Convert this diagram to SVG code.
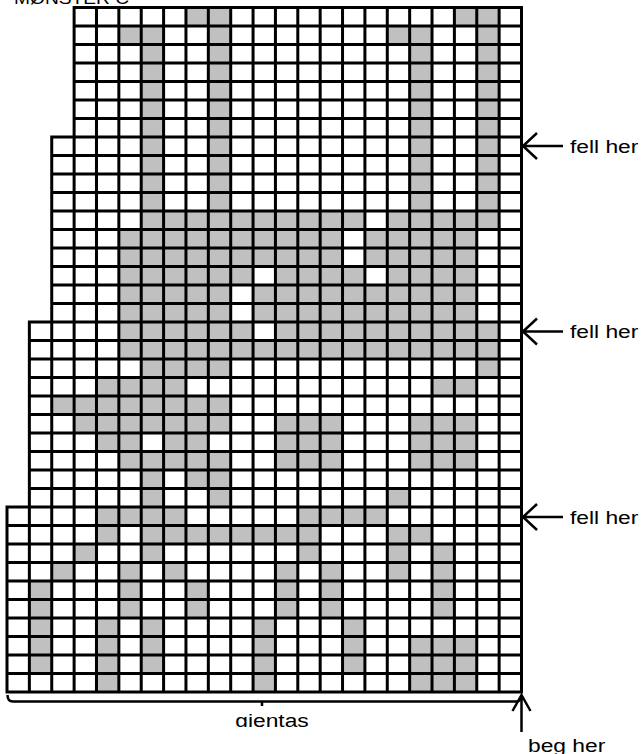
<svg xmlns="http://www.w3.org/2000/svg" width="643" height="754" viewBox="0 0 643 754">
<style>
.g{fill:#c0c0c0}
.grid{fill:none;stroke:#000;stroke-width:3;stroke-linecap:square}
.ln{fill:none;stroke:#000;stroke-width:2.5}
.t{font-family:"Liberation Sans",Arial,sans-serif;font-size:19px;fill:#000}
</style>
<defs>
<clipPath id="clipG"><rect x="180" y="704" width="200" height="23"/></clipPath>
</defs>
<rect width="643" height="754" fill="#fff"/>
<g id="title"><text class="t" style="font-size:16px" transform="translate(14,4) scale(1.2,1)">MØNSTER C</text></g>
<g id="chart">
<g id="shaded" class="g">
<rect x="185.96" y="7.5" width="44.74" height="18.5"/><rect x="454.39" y="7.5" width="44.74" height="18.5"/>
<rect x="118.85" y="26" width="44.74" height="18.5"/><rect x="208.33" y="26" width="22.37" height="18.5"/><rect x="387.28" y="26" width="44.74" height="18.5"/><rect x="476.76" y="26" width="22.37" height="18.5"/>
<rect x="141.22" y="44.5" width="22.37" height="166.5"/><rect x="208.33" y="44.5" width="22.37" height="166.5"/><rect x="409.65" y="44.5" width="22.37" height="166.5"/><rect x="476.76" y="44.5" width="22.37" height="166.5"/>
<rect x="141.22" y="211" width="223.69" height="18.5"/><rect x="387.28" y="211" width="111.85" height="18.5"/>
<rect x="118.85" y="229.5" width="223.69" height="37"/><rect x="364.91" y="229.5" width="111.85" height="37"/>
<rect x="118.85" y="266.5" width="134.22" height="18.5"/><rect x="275.43" y="266.5" width="89.48" height="18.5"/><rect x="387.28" y="266.5" width="89.48" height="18.5"/>
<rect x="118.85" y="285" width="111.85" height="37"/><rect x="253.07" y="285" width="223.69" height="37"/>
<rect x="118.85" y="322" width="134.22" height="18.5"/><rect x="275.43" y="322" width="223.7" height="18.5"/>
<rect x="118.85" y="340.5" width="380.28" height="18.5"/>
<rect x="141.22" y="359" width="89.48" height="18.5"/><rect x="476.76" y="359" width="22.37" height="18.5"/>
<rect x="96.48" y="377.5" width="89.48" height="18.5"/><rect x="432.02" y="377.5" width="44.74" height="18.5"/>
<rect x="51.74" y="396" width="178.96" height="18.5"/>
<rect x="74.11" y="414.5" width="156.59" height="18.5"/><rect x="275.43" y="414.5" width="67.11" height="55.5"/><rect x="409.65" y="414.5" width="67.11" height="55.5"/>
<rect x="96.48" y="433" width="44.74" height="18.5"/><rect x="163.59" y="433" width="44.74" height="18.5"/>
<rect x="118.85" y="451.5" width="111.85" height="18.5"/>
<rect x="141.22" y="470" width="22.37" height="18.5"/><rect x="185.96" y="470" width="44.74" height="18.5"/>
<rect x="141.22" y="488.5" width="22.37" height="18.5"/><rect x="208.33" y="488.5" width="22.37" height="18.5"/><rect x="387.28" y="488.5" width="22.37" height="18.5"/>
<rect x="96.48" y="507" width="89.48" height="18.5"/><rect x="297.8" y="507" width="89.48" height="18.5"/>
<rect x="96.48" y="525.5" width="22.37" height="18.5"/><rect x="141.22" y="525.5" width="178.95" height="18.5"/><rect x="387.28" y="525.5" width="44.74" height="18.5"/>
<rect x="74.11" y="544" width="22.37" height="18.5"/><rect x="141.22" y="544" width="22.37" height="18.5"/><rect x="297.8" y="544" width="22.37" height="18.5"/><rect x="387.28" y="544" width="22.37" height="37"/><rect x="432.02" y="544" width="22.37" height="18.5"/>
<rect x="51.74" y="562.5" width="22.37" height="18.5"/><rect x="118.85" y="562.5" width="22.37" height="18.5"/><rect x="163.59" y="562.5" width="22.37" height="18.5"/><rect x="275.43" y="562.5" width="22.37" height="18.5"/><rect x="320.17" y="562.5" width="22.37" height="18.5"/><rect x="432.02" y="562.5" width="22.37" height="55.5"/>
<rect x="29.37" y="581" width="22.37" height="37"/><rect x="118.85" y="581" width="22.37" height="37"/><rect x="185.96" y="581" width="22.37" height="37"/><rect x="275.43" y="581" width="22.37" height="37"/><rect x="320.17" y="581" width="22.37" height="37"/>
<rect x="29.37" y="618" width="22.37" height="55.5"/><rect x="96.48" y="618" width="22.37" height="74"/><rect x="141.22" y="618" width="22.37" height="55.5"/><rect x="253.07" y="618" width="22.37" height="74"/><rect x="342.54" y="618" width="22.37" height="55.5"/>
<rect x="409.65" y="636.5" width="67.11" height="55.5"/>
</g>
<path id="gridlines" class="grid" d="M74.11 7.5H521.5M74.11 26H521.5M74.11 44.5H521.5M74.11 63H521.5M74.11 81.5H521.5M74.11 100H521.5M74.11 118.5H521.5M51.74 137H521.5M51.74 155.5H521.5M51.74 174H521.5M51.74 192.5H521.5M51.74 211H521.5M51.74 229.5H521.5M51.74 248H521.5M51.74 266.5H521.5M51.74 285H521.5M51.74 303.5H521.5M29.37 322H521.5M29.37 340.5H521.5M29.37 359H521.5M29.37 377.5H521.5M29.37 396H521.5M29.37 414.5H521.5M29.37 433H521.5M29.37 451.5H521.5M29.37 470H521.5M29.37 488.5H521.5M7 507H521.5M7 525.5H521.5M7 544H521.5M7 562.5H521.5M7 581H521.5M7 599.5H521.5M7 618H521.5M7 636.5H521.5M7 655H521.5M7 673.5H521.5M7 692H521.5M7 507V692M29.37 322V692M51.74 137V692M74.11 7.5V692M96.48 7.5V692M118.85 7.5V692M141.22 7.5V692M163.59 7.5V692M185.96 7.5V692M208.33 7.5V692M230.7 7.5V692M253.07 7.5V692M275.43 7.5V692M297.8 7.5V692M320.17 7.5V692M342.54 7.5V692M364.91 7.5V692M387.28 7.5V692M409.65 7.5V692M432.02 7.5V692M454.39 7.5V692M476.76 7.5V692M499.13 7.5V692M521.5 7.5V692"/>
</g>
<g id="connectors">
<path class="ln" d="M523 146H563M537 133L523 146L537 159"/>
<path class="ln" d="M523 331.5H563M537 318.5L523 331.5L537 344.5"/>
<path class="ln" d="M523 517H563M537 504L523 517L537 530"/>
<path class="ln" d="M7.5 695Q7.5 701.5 13 701.5H516Q521.5 701.5 521.5 695M262 701.5V706"/>
<path class="ln" d="M521.5 732V695M512.5 711L521.5 695L530.5 711"/>
</g>
<g id="labels">
<text class="t" transform="translate(570,152.5) scale(1.2,1)">fell her</text>
<text class="t" transform="translate(570,338) scale(1.2,1)">fell her</text>
<text class="t" transform="translate(570,523.5) scale(1.2,1)">fell her</text>
<g clip-path="url(#clipG)"><text class="t" text-anchor="middle" transform="translate(272,726.5) scale(1.2,1)">gjentas</text></g>
<text class="t" transform="translate(528,752) scale(1.2,1)">beg her</text>
</g>
</svg>
